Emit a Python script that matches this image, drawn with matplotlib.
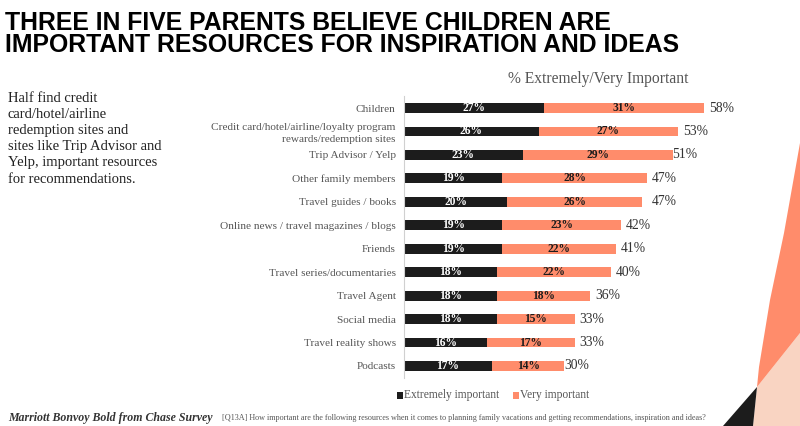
import numpy as np
import matplotlib.pyplot as plt
from matplotlib.patches import Polygon

# --- data ---
categories = [
    "Children",
    "Credit card/hotel/airline/loyalty program\nrewards/redemption sites",
    "Trip Advisor / Yelp",
    "Other family members",
    "Travel guides / books",
    "Online news / travel magazines / blogs",
    "Friends",
    "Travel series/documentaries",
    "Travel Agent",
    "Social media",
    "Travel reality shows",
    "Podcasts",
]
extremely = [27, 26, 23, 19, 20, 19, 19, 18, 18, 18, 16, 17]
very = [31, 27, 29, 28, 26, 23, 22, 22, 18, 15, 17, 14]
totals = [58, 53, 51, 47, 47, 42, 41, 40, 36, 33, 33, 30]

BLACK = "#1c1c1c"
ORANGE = "#ff8c6b"
PEACH = "#f9d4c2"
GREY = "#555555"
SERIF = ["Georgia", "Liberation Serif", "DejaVu Serif"]

fig = plt.figure(figsize=(8, 4.26), dpi=100)
fig.patch.set_facecolor("white")

# title
fig.text(0.006, 0.975, "THREE IN FIVE PARENTS BELIEVE CHILDREN ARE\nIMPORTANT RESOURCES FOR INSPIRATION AND IDEAS",
         ha="left", va="top", fontsize=17.8, fontweight="bold", color="black",
         family=["Liberation Sans", "DejaVu Sans"],
         linespacing=0.92)

# left note
fig.text(0.01, 0.785, "Half find credit\ncard/hotel/airline\nredemption sites and\nsites like Trip Advisor and\nYelp, important resources\nfor recommendations.",
         ha="left", va="top", fontsize=10.5, color="#222222", family=SERIF, linespacing=1.32)

# subtitle
fig.text(0.635, 0.815, "% Extremely/Very Important", ha="left", va="center",
         fontsize=11.2, color=GREY, family=SERIF)

# --- bars ---
ax = fig.add_axes([0.505, 0.1134, 0.485, 0.6606])
y = np.arange(len(categories))
ax.barh(y, extremely, height=0.42, color=BLACK, edgecolor="none")
ax.barh(y, very, left=extremely, height=0.42, color=ORANGE, edgecolor="none")

for i in range(len(categories)):
    ax.text(extremely[i] / 2, y[i], f"{extremely[i]}%", ha="center", va="center",
            color="white", fontsize=8.3, fontweight="bold", family=SERIF)
    ax.text(extremely[i] + very[i] / 2, y[i], f"{very[i]}%", ha="center", va="center",
            color=BLACK, fontsize=8.3, fontweight="bold", family=SERIF)
    ax.text(totals[i] + 0.9, y[i], f"{totals[i]}%", ha="left", va="center",
            color="#333333", fontsize=9.8, family=SERIF)

ax.set_xlim(0, 75)
ax.set_ylim(len(categories) - 0.5, -0.5)
ax.set_yticks(y)
ax.set_yticklabels(categories, fontsize=8.1, color=GREY, family=SERIF)
for lab in ax.get_yticklabels():
    lab.set_linespacing(1.3)
ax.tick_params(axis="y", length=0, pad=6)
ax.set_xticks([])
for s in ["top", "right", "bottom"]:
    ax.spines[s].set_visible(False)
ax.spines["left"].set_color("#d0d0d0")
ax.spines["left"].set_linewidth(0.8)
ax.set_facecolor("none")

# legend
fig.patches.append(plt.Rectangle((0.4965, 0.064), 0.0075, 0.016, transform=fig.transFigure,
                                 facecolor=BLACK, edgecolor="none"))
fig.text(0.505, 0.072, "Extremely important", ha="left", va="center", fontsize=8.3,
         color=GREY, family=SERIF)
fig.patches.append(plt.Rectangle((0.641, 0.064), 0.0075, 0.016, transform=fig.transFigure,
                                 facecolor=ORANGE, edgecolor="none"))
fig.text(0.65, 0.072, "Very important", ha="left", va="center", fontsize=8.3,
         color=GREY, family=SERIF)

# footer
fig.text(0.01, 0.018, "Marriott Bonvoy Bold from Chase Survey", ha="left", va="center",
         fontsize=8.6, fontweight="bold", style="italic", color="#333333", family=SERIF)
fig.text(0.278, 0.018, "[Q13A] How important are the following resources when it comes to planning family vacations and getting recommendations, inspiration and ideas?",
         ha="left", va="center", fontsize=5.9, color=GREY, family=SERIF)

# decorative corner shapes (pixel coords -> figure coords)
def fp(pts):
    return [(x / 800, 1 - yy / 426) for x, yy in pts]

fig.patches.append(Polygon(fp([(757, 387), (800, 333), (800, 426), (753, 426)]),
                           closed=True, transform=fig.transFigure, facecolor=PEACH, edgecolor="none"))
fig.patches.append(Polygon(fp([(800, 143), (784, 233), (770, 300), (759, 367), (757, 387), (800, 333)]),
                           closed=True, transform=fig.transFigure, facecolor=ORANGE, edgecolor="none"))
fig.patches.append(Polygon(fp([(757, 387), (753, 426), (723, 426)]), closed=True,
                           transform=fig.transFigure, facecolor=BLACK, edgecolor="none"))

fig.savefig("out.png", dpi=100, facecolor="white")
